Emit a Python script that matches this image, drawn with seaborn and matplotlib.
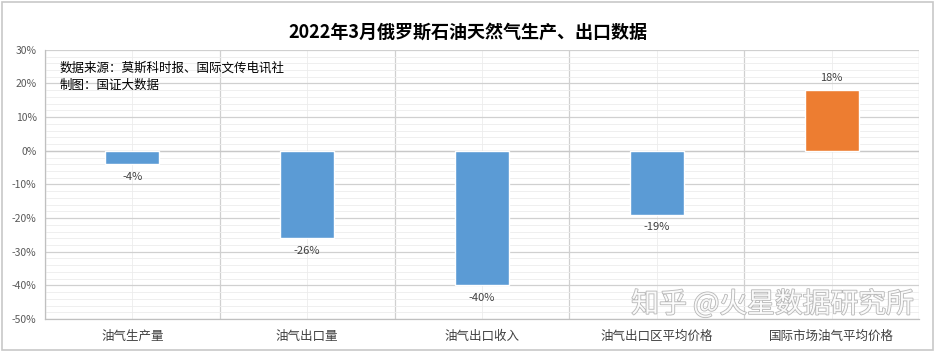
import numpy as np
import matplotlib.pyplot as plt
import matplotlib.patheffects as pe
import matplotlib.patches as mpatches
import seaborn as sns
from matplotlib.ticker import MultipleLocator, FixedLocator, FuncFormatter

# 数据
categories = ['油气生产量', '油气出口量', '油气出口收入', '油气出口区平均价格', '国际市场油气平均价格']
values = [-4, -26, -40, -19, 18]
bar_colors = ['#5B9BD5', '#5B9BD5', '#5B9BD5', '#5B9BD5', '#ED7D31']
labels = ['-4%', '-26%', '-40%', '-19%', '18%']

sns.set_style('white')
plt.rcParams['font.family'] = ['Noto Sans CJK SC', 'DejaVu Sans']

fig = plt.figure(figsize=(9.36, 3.51), dpi=100)
ax = fig.add_axes([0.048, 0.091, 0.934, 0.767])

sns.barplot(x=categories, y=values, hue=categories, palette=bar_colors,
            legend=False, width=0.31, saturation=1, ax=ax, zorder=3)

ax.set_ylim(-50, 30)
ax.set_xlim(-0.5, 4.5)
ax.yaxis.set_major_locator(MultipleLocator(10))
ax.yaxis.set_minor_locator(MultipleLocator(2))
ax.yaxis.set_major_formatter(FuncFormatter(lambda v, p: '%d%%' % v))
ax.xaxis.set_major_locator(FixedLocator(range(len(categories))))
ax.set_xticklabels(categories)
ax.xaxis.set_minor_locator(FixedLocator(np.arange(-0.5, 5, 1)))

# 网格
ax.grid(which='major', axis='y', color='#d0d0d0', linewidth=0.9, zorder=0)
ax.grid(which='minor', axis='y', color='#ececec', linewidth=0.6, zorder=0)
ax.grid(which='minor', axis='x', color='#d0d0d0', linewidth=0.9, zorder=0)
ax.grid(which='major', axis='x', color='#ececec', linewidth=0.6, zorder=0)
ax.axhline(0, color='#c8c8c8', linewidth=0.9, zorder=1)

for s in ['top', 'right']:
    ax.spines[s].set_visible(False)
for s in ['left', 'bottom']:
    ax.spines[s].set_color('#c0c0c0')
    ax.spines[s].set_linewidth(0.9)

ax.tick_params(axis='y', which='both', length=0, labelsize=7.5, labelcolor='#595959', pad=6)
ax.tick_params(axis='x', which='both', length=0, labelsize=9, labelcolor='#404040', pad=8)
ax.set_xlabel('')
ax.set_ylabel('')

# 数据标签
for i, (v, t) in enumerate(zip(values, labels)):
    if v < 0:
        ax.text(i, v - 2.2, t, ha='center', va='top', fontsize=8, color='#404040', zorder=4)
    else:
        ax.text(i, v + 2.2, t, ha='center', va='bottom', fontsize=8, color='#404040', zorder=4)

ax.text(0.017, 0.955, '数据来源：莫斯科时报、国际文传电讯社\n制图：国证大数据',
        transform=ax.transAxes, ha='left', va='top', fontsize=9, color='black',
        linespacing=1.35, zorder=5)

fig.suptitle('2022年3月俄罗斯石油天然气生产、出口数据', y=0.935, fontsize=13,
             fontweight='bold', color='black')

# 水印
fig.text(0.976, 0.09, '知乎 @火星数据研究所', ha='right', va='bottom', fontsize=20,
         color='white', alpha=0.9, zorder=10,
         path_effects=[pe.withStroke(linewidth=1.2, foreground='#b0b0b0')])

fig.patches.append(mpatches.Rectangle((0.002, 0.003), 0.995, 0.992, transform=fig.transFigure,
                                      fill=False, edgecolor='#c8c8c8', linewidth=1.2))

fig.savefig('out.png', dpi=100)
